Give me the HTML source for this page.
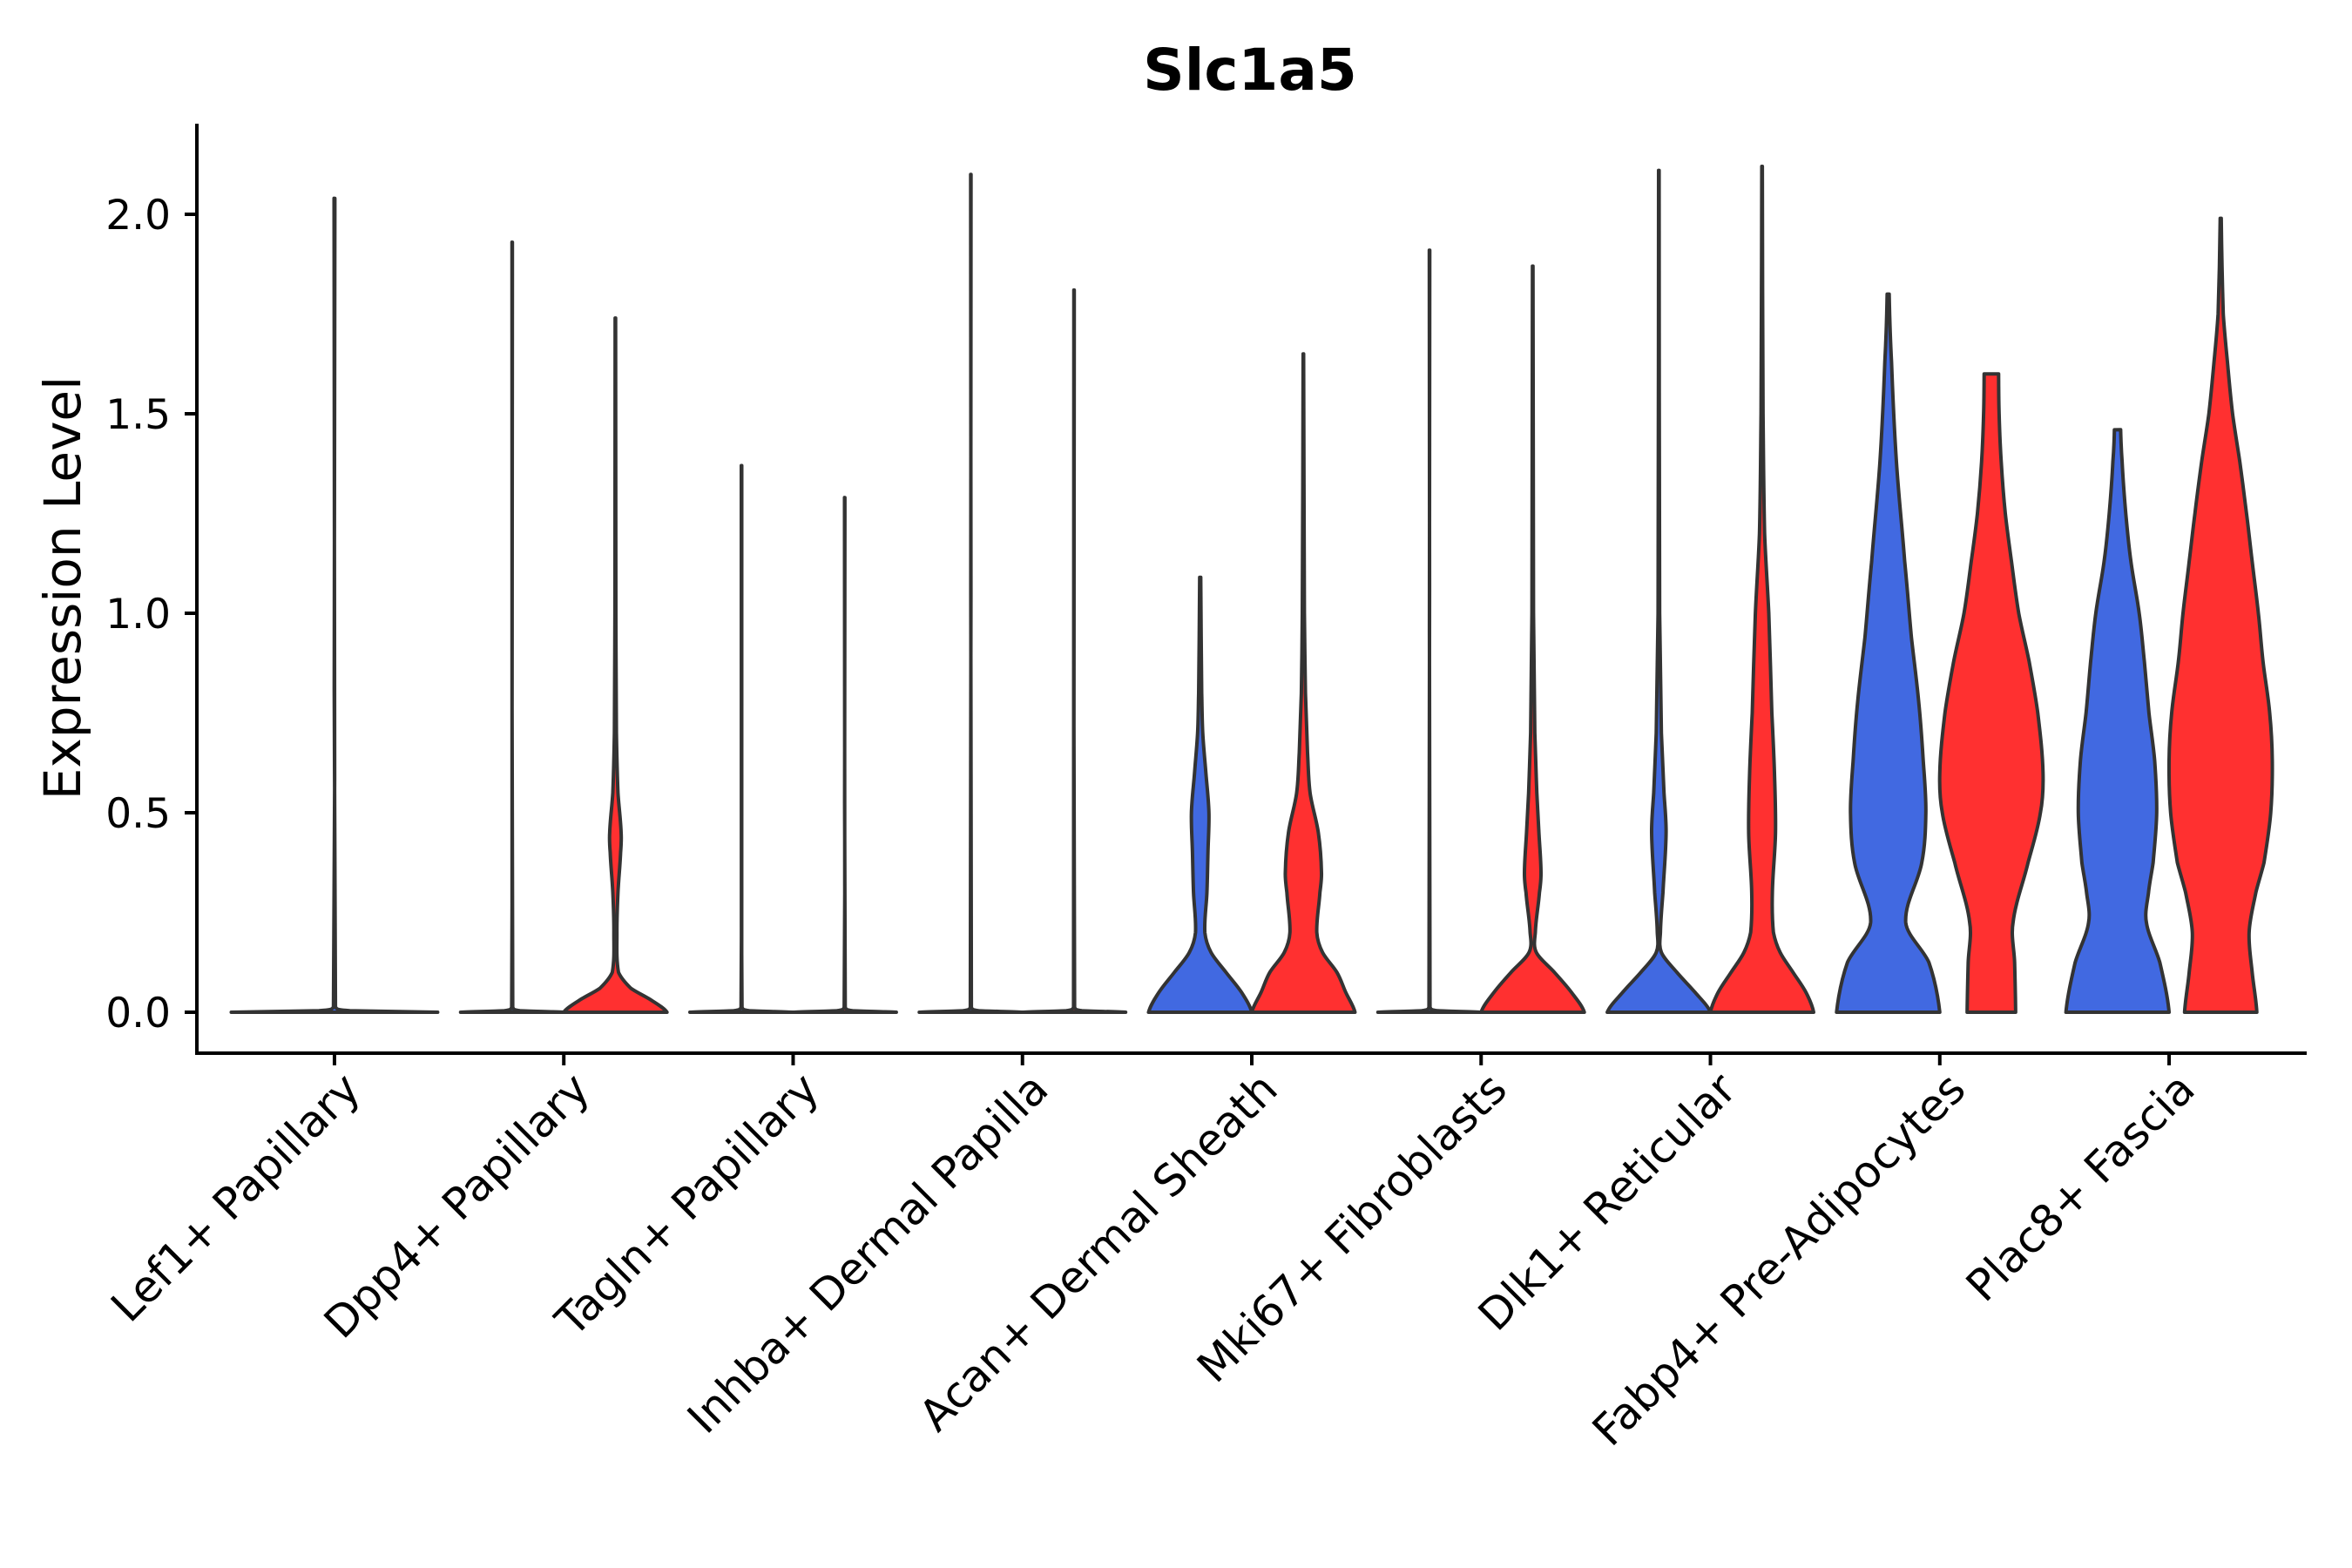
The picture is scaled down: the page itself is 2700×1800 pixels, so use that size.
<!DOCTYPE html>
<html><head><meta charset="utf-8"><style>
html,body{margin:0;padding:0;background:#fff;}
svg{display:block;}
text{font-family:"DejaVu Sans","Liberation Sans",sans-serif;fill:#000;}
</style></head><body>
<svg id="chart" width="2700" height="1800" viewBox="0 0 2700 1800" xmlns="http://www.w3.org/2000/svg">
<text x="1435" y="103" font-size="66" font-weight="bold" text-anchor="middle">Slc1a5</text>
<text transform="translate(92,675) rotate(-90)" font-size="58" text-anchor="middle">Expression Level</text>
<g id="violins"></g>
<g id="axes"></g>
</svg>
<script>
const categories = ["Lef1+ Papillary","Dpp4+ Papillary","Tagln+ Papillary","Inhba+ Dermal Papilla","Acan+ Dermal Sheath","Mki67+ Fibroblasts","Dlk1+ Reticular","Fabp4+ Pre-Adipocytes","Plac8+ Fascia"];
const yTicks = [0.0, 0.5, 1.0, 1.5, 2.0];
const yTickLabels = ["0.0","0.5","1.0","1.5","2.0"];
// each violin: category index, group (0 blue / 1 red / -1 single), profile of [value, relative half-width]
const violinCats = [0, 1, 1, 2, 2, 3, 3, 4, 4, 5, 5, 6, 6, 7, 7, 8, 8];
const violinGroups = [-1, 0, 1, 0, 1, 0, 1, 0, 1, 0, 1, 0, 1, 0, 1, 0, 1];
const violinProfiles = [
  [[0,1],[0.004,0.15],[0.012,0.01],[2.04,0.004]],
  [[0,1],[0.004,0.15],[0.012,0.01],[1.93,0.004]],
  [[0,1],[0.03,0.7],[0.06,0.3],[0.1,0.06],[0.2,0.03],[0.3,0.05],[0.4,0.1],[0.45,0.11],[0.55,0.05],[0.7,0.02],[1.0,0.01],[1.74,0.005]],
  [[0,1],[0.004,0.15],[0.012,0.01],[1.37,0.004]],
  [[0,1],[0.004,0.15],[0.012,0.01],[1.29,0.004]],
  [[0,1],[0.004,0.15],[0.012,0.01],[2.10,0.004]],
  [[0,1],[0.004,0.15],[0.012,0.01],[1.81,0.004]],
  [[0,1],[0.05,0.8],[0.1,0.5],[0.15,0.21],[0.2,0.09],[0.3,0.13],[0.4,0.15],[0.5,0.17],[0.6,0.11],[0.7,0.05],[0.8,0.03],[1.09,0.01]],
  [[0,1],[0.05,0.82],[0.1,0.65],[0.15,0.37],[0.2,0.26],[0.3,0.32],[0.35,0.35],[0.45,0.29],[0.55,0.13],[0.65,0.08],[0.8,0.04],[1.0,0.02],[1.65,0.005]],
  [[0,1],[0.004,0.15],[0.012,0.01],[1.91,0.004]],
  [[0,1],[0.05,0.75],[0.1,0.42],[0.15,0.07],[0.2,0.05],[0.3,0.13],[0.35,0.16],[0.45,0.12],[0.55,0.08],[0.7,0.04],[1.0,0.015],[1.87,0.005]],
  [[0,1],[0.05,0.7],[0.1,0.35],[0.15,0.05],[0.2,0.03],[0.3,0.08],[0.45,0.14],[0.55,0.1],[0.7,0.05],[1.0,0.015],[2.11,0.005]],
  [[0,1],[0.05,0.85],[0.1,0.6],[0.15,0.35],[0.2,0.22],[0.3,0.2],[0.45,0.26],[0.6,0.24],[0.75,0.19],[1.0,0.13],[1.2,0.05],[1.5,0.02],[2.12,0.005]],
  [[0,1],[0.125,0.79],[0.225,0.34],[0.375,0.65],[0.5,0.73],[0.63,0.68],[0.78,0.59],[0.94,0.45],[1.13,0.32],[1.38,0.16],[1.63,0.065],[1.8,0.02]],
  [[0,0.47],[0.125,0.45],[0.225,0.42],[0.375,0.71],[0.5,0.95],[0.6,1.0],[0.75,0.9],[0.88,0.73],[1.0,0.53],[1.13,0.39],[1.25,0.27],[1.38,0.19],[1.5,0.15],[1.6,0.14]],
  [[0,1],[0.125,0.82],[0.225,0.56],[0.3,0.6],[0.375,0.69],[0.5,0.76],[0.63,0.72],[0.75,0.61],[0.88,0.52],[1.0,0.42],[1.13,0.26],[1.25,0.16],[1.38,0.09],[1.46,0.06]],
  [[0,0.7],[0.1,0.61],[0.2,0.55],[0.3,0.68],[0.375,0.84],[0.5,0.97],[0.63,1.0],[0.75,0.95],[0.88,0.82],[1.0,0.73],[1.13,0.61],[1.25,0.5],[1.38,0.37],[1.5,0.23],[1.63,0.13],[1.75,0.05],[1.99,0.01]]
];
const groupColors = ["#4169E1", "#FF3030"];

const NS = "http://www.w3.org/2000/svg";
const plotLeft = 226, plotRight = 2648, yZero = 1162, pxPerUnit = 458, axisY = 1209, axisTop = 142;
const band = (plotRight - plotLeft) / (categories.length + 0.2);
function xScale(i){ return plotLeft + band * (0.6 + i); }
function yScale(v){ return yZero - v * pxPerUnit; }

function crPath(pts){
  let d = "";
  for (let i = 0; i < pts.length - 1; i++){
    const p0 = pts[Math.max(i-1,0)], p1 = pts[i], p2 = pts[i+1], p3 = pts[Math.min(i+2,pts.length-1)];
    const c1 = [p1[0] + (p2[0]-p0[0])/6, p1[1] + (p2[1]-p1[1])/3];
    const c2 = [p2[0] - (p3[0]-p1[0])/6, p1[1] + 2*(p2[1]-p1[1])/3];
    d += ` C${c1[0].toFixed(1)},${c1[1].toFixed(1)} ${c2[0].toFixed(1)},${c2[1].toFixed(1)} ${p2[0].toFixed(1)},${p2[1].toFixed(1)}`;
  }
  return d;
}

const vg = document.getElementById("violins");
violinProfiles.forEach((prof, k) => {
  const grp = violinGroups[k];
  const cx = xScale(violinCats[k]) + (grp < 0 ? 0 : (grp === 0 ? -0.225 : 0.225) * band);
  const hw = (grp < 0 ? 0.45 : 0.225) * band;
  const right = prof.map(p => [cx + p[1]*hw, yScale(p[0])]);
  const left = prof.slice().reverse().map(p => [cx - p[1]*hw, yScale(p[0])]);
  let d = `M${cx - prof[0][1]*hw},${yScale(0)} L${right[0][0]},${right[0][1]}`;
  d += crPath(right);
  d += ` L${left[0][0]},${left[0][1]}`;
  d += crPath(left) + " Z";
  const path = document.createElementNS(NS, "path");
  path.setAttribute("d", d);
  path.setAttribute("fill", groupColors[grp < 0 ? 0 : grp]);
  path.setAttribute("stroke", "#333333");
  path.setAttribute("stroke-width", "4");
  path.setAttribute("stroke-linejoin", "round");
  
  
  vg.appendChild(path);
});

const ag = document.getElementById("axes");
function line(x1,y1,x2,y2,name){
  const l = document.createElementNS(NS, "line");
  l.setAttribute("x1",x1); l.setAttribute("y1",y1); l.setAttribute("x2",x2); l.setAttribute("y2",y2);
  l.setAttribute("stroke","#000"); l.setAttribute("stroke-width","4");
  
  
  ag.appendChild(l);
}
line(plotLeft, axisTop, plotLeft, axisY+2, "y-axis-line");
line(plotLeft-2, axisY, plotRight, axisY, "x-axis-line");
yTicks.forEach((v, i) => {
  const y = yScale(v);
  line(plotLeft-14, y, plotLeft, y, "y-tick");
  const t = document.createElementNS(NS, "text");
  t.setAttribute("x", 196); t.setAttribute("y", y + 17);
  t.setAttribute("font-size", "47"); t.setAttribute("text-anchor", "end");
  t.textContent = yTickLabels[i];
  
  
  ag.appendChild(t);
});
categories.forEach((c, i) => {
  const x = xScale(i);
  line(x, axisY, x, axisY+14, "x-tick");
  const t = document.createElementNS(NS, "text");
  t.setAttribute("transform", `translate(${x+6},${axisY+18}) rotate(-45)`);
  t.setAttribute("font-size", "50"); t.setAttribute("text-anchor", "end");
  t.setAttribute("dy", "0.74em");
  t.textContent = c;
  
  
  ag.appendChild(t);
});
</script>
</body></html>
